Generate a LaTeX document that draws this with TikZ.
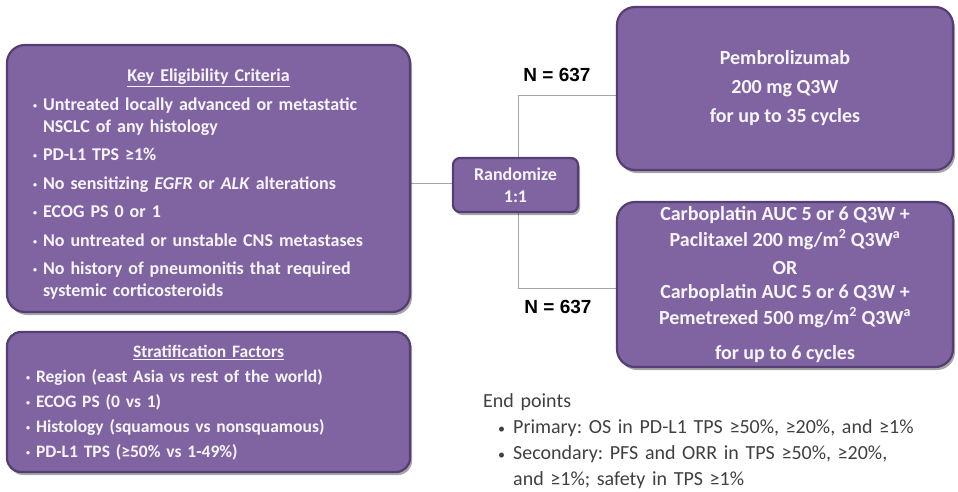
\documentclass[tikz,border=0pt]{standalone}
\usepackage{fontspec}
\setmainfont{Carlito}
\newfontfamily\arialfont{Liberation Sans}
\usetikzlibrary{shadows}
\definecolor{armpurple}{RGB}{128, 100, 162}
\definecolor{armedge}{RGB}{84, 62, 115}
\definecolor{armtext}{RGB}{247, 245, 251}
\definecolor{linkgray}{RGB}{165, 165, 165}
\definecolor{endgray}{RGB}{64, 64, 64}
\newcommand{\itm}[1]{\par\hangindent=10pt\hangafter=1\makebox[10pt][l]{\raisebox{2pt}{\fontsize{8}{8}\selectfont•}}#1}
\newcommand{\epitm}[1]{\par\hangindent=30pt\hangafter=1\hspace*{15pt}\makebox[15pt][l]{\fontsize{14}{14}\selectfont•}#1}

\begin{document}
\begin{tikzpicture}[x=1pt, y=-1pt,
    armbox/.style={draw=armedge, line width=2.2pt, fill=armpurple, rounded corners=18pt,
      text=armtext, font=\bfseries, inner sep=0pt,
      drop shadow={shadow xshift=2pt, shadow yshift=-3pt, fill=black, opacity=0.35}},
    armlist/.style={anchor=north, align=left, inner sep=0pt, text=armtext},
    link/.style={draw=linkgray, line width=1pt},
    nlabel/.style={font=\arialfont\bfseries\fontsize{19}{21}\selectfont}]
        \useasboundingbox (0,0) rectangle (958,491);

        \draw[link] (410,183) -- (518,183);
        \draw[link] (617,95) -| (518,288) -- (617,288);

        \node[armbox, minimum width=403, minimum height=267] (criteria) at (208.5,178.5) {};
        \node[armlist, text width=351, font=\bfseries\fontsize{18}{22}\selectfont] (criteriatext) at (208.5,69)
        {\parskip=6.5pt\frenchspacing
        \centerline{\underline{Key Eligibility Criteria}}
        \itm{Untreated locally advanced or metastatic NSCLC of any histology}
        \itm{PD-L1 TPS ≥1\%}
        \itm{No sensitizing \textit{EGFR} or \textit{ALK} alterations}
        \itm{ECOG PS 0 or 1}
        \itm{No untreated or unstable CNS metastases}
        \itm{No history of pneumonitis that required systemic corticosteroids}\par};

        \node[armbox, minimum width=403, minimum height=140, rounded corners=14pt] (strata) at (208.5,402) {};
        \node[armlist, text width=365, font=\bfseries\fontsize{17.5}{25}\selectfont] (stratatext) at (208.5,345)
        {\centerline{\underline{Stratification Factors}}
        \itm{Region (east Asia vs rest of the world)}
        \itm{ECOG PS (0 vs 1)}
        \itm{Histology (squamous vs nonsquamous)}
        \itm{PD-L1 TPS (≥50\% vs 1-49\%)}\par};

        \node[armbox, minimum width=125, minimum height=54, rounded corners=7pt, align=center,
          font=\bfseries\fontsize{18}{22}\selectfont] (randomize) at (515.5,185)
        {Randomize\\1:1};

        \node[armbox, minimum width=336, minimum height=163, align=center,
          font=\bfseries\fontsize{20}{29}\selectfont] (pembro) at (785,88.5)
        {Pembrolizumab\\200 mg Q3W\\for up to 35 cycles};

        \node[armbox, minimum width=336, minimum height=165, align=center,
          font=\bfseries\fontsize{20}{26}\selectfont] (chemo) at (785,284.5)
        {Carboplatin AUC 5 or 6 Q3W +\\Paclitaxel 200 mg/m\textsuperscript{2} Q3W\textsuperscript{a}\\[2pt]OR\\[-2pt]
        Carboplatin AUC 5 or 6 Q3W +\\Pemetrexed 500 mg/m\textsuperscript{2} Q3W\textsuperscript{a}\\[9pt]for up to 6 cycles};

        \node[nlabel] (ntop) at (557,75) {N = 637};
        \node[nlabel] (nbottom) at (558,307) {N = 637};

        \node[anchor=north west, text width=460, align=left, inner sep=0pt, text=endgray,
          font=\fontsize{20}{26}\selectfont] (endpoints) at (483,393)
        {\frenchspacing End points
        \epitm{Primary: OS in PD-L1 TPS ≥50\%, ≥20\%, and ≥1\%}
        \epitm{Secondary: PFS and ORR in TPS ≥50\%, ≥20\%,\newline and ≥1\%; safety in TPS ≥1\%}\par};
\end{tikzpicture}
\end{document}
